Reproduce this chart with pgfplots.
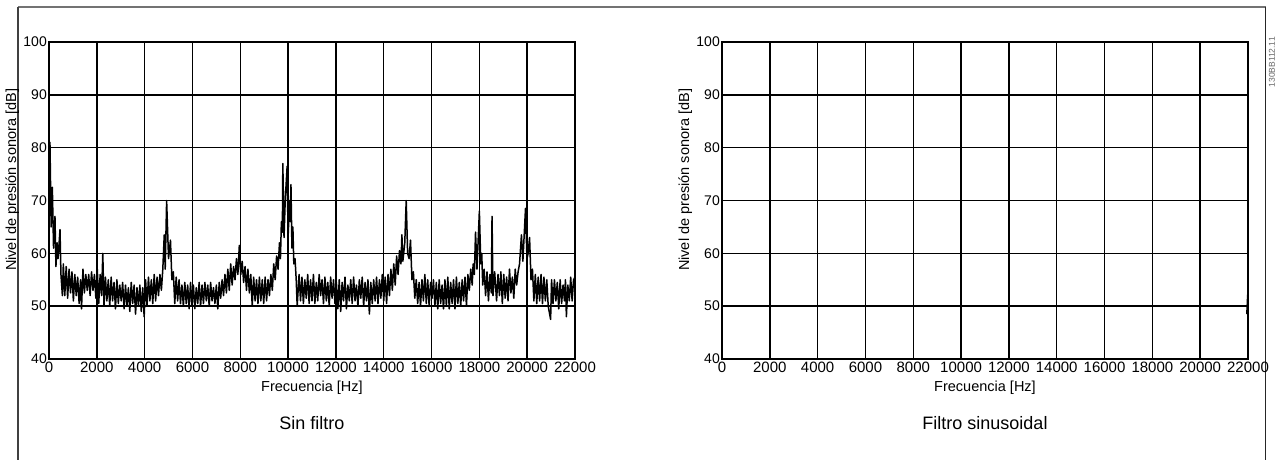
\documentclass[border=0pt]{standalone}
\usepackage{fontspec}
\setmainfont{Liberation Sans}
\usepackage{pgfplots}
\pgfplotsset{compat=1.18}

\pgfplotsset{
  panel/.style={
    scale only axis, width=526pt, height=317pt,
    anchor=south west,
    xmin=0, xmax=22000, ymin=40, ymax=100,
    xtick={0,2000,...,22000}, ytick={40,50,...,100},
    scaled x ticks=false,
    /pgf/number format/assume math mode=true,
    /pgf/number format/1000 sep={},
    major tick length=0pt,
    grid=major, grid style={black, line width=1.5pt},
    axis line style={black, line width=1.5pt},
    yticklabel style={font=\fontsize{14}{16}\selectfont, inner sep=2pt},
    xticklabel style={font=\fontsize{15}{16}\selectfont, inner sep=3pt},
    label style={font=\fontsize{14.5}{17}\selectfont},
    xlabel={Frecuencia [Hz]},
    xlabel style={at={(axis description cs:0.5,-0.092)}, anchor=center},
    ylabel={Nivel de presión sonora [dB]},
    ylabel style={at={(axis description cs:-0.07,0.565)}, anchor=center},
    title style={font=\fontsize{18}{21}\selectfont, at={(axis description cs:0.5,-0.222)}, anchor=center},
  }
}

\begin{document}
\begin{tikzpicture}
\path[use as bounding box] (0pt,0pt) rectangle (1279pt,460pt);
% outer frame
\draw[black!55, line width=1.3pt] (18pt,453pt) -- (1265.5pt,453pt);
\draw[black!75, line width=1.1pt] (18pt,0pt) -- (18pt,453pt);
\draw[black!85, line width=1.1pt] (1265.5pt,0pt) -- (1265.5pt,453pt);
\node[rotate=90, anchor=east, text=black!60, font=\fontsize{8.5}{9}\selectfont, inner sep=0pt] at (1272pt,423pt) {130BB112.11};

\begin{axis}[panel, at={(49pt,101pt)}, title={Sin filtro}]
\addplot[black, line width=1.5pt, line join=round] coordinates {
(0,74)(40,81)(90,65)(140,72.5)(190,61)(250,67)(290,57.5)(340,62)(380,59)(460,64.5)
(500,56)(560,52)(600,58)(660,52)(720,57.5)(780,51.5)(840,57)(900,52.5)(960,56.5)(1020,51)
(1080,56)(1140,52)(1200,55.5)(1260,50.5)(1320,55)(1360,49.5)(1420,57)(1480,52.5)(1540,56)(1600,53)
(1660,56)(1720,52)(1780,56.5)(1840,53)(1900,56)(1960,51.5)(2020,57)(2080,50.5)(2140,56)(2200,52)
(2250,60)(2300,50)(2360,55.5)(2420,51)(2480,55)(2540,50)(2600,55.5)(2660,51)(2720,54.5)(2780,49.5)
(2840,55)(2900,50.5)(2960,54)(3020,51)(3080,54.5)(3140,49.5)(3200,54)(3260,50)(3320,53.5)(3380,49)
(3440,54.5)(3500,50.5)(3560,54)(3620,48.5)(3680,53.5)(3740,50)(3800,54)(3860,49)(3920,53.5)(3980,48)
(4040,55)(4100,50)(4160,55.5)(4220,51)(4280,55)(4340,50.5)(4400,56)(4460,51)(4520,55.5)(4580,52)
(4640,56)(4700,53)(4760,57)(4820,63.5)(4860,57)(4920,70)(5000,59)(5080,62.5)(5140,55)(5200,56.5)
(5260,50.5)(5320,55.5)(5380,51)(5440,55)(5500,50.5)(5560,54)(5620,50)(5680,54.5)(5740,50.5)(5800,54)
(5860,49.5)(5920,54.5)(5980,50)(6040,54)(6100,49.5)(6160,53.5)(6220,50.5)(6280,54.5)(6340,50)(6400,54)
(6460,50.5)(6520,54.5)(6580,51)(6640,54)(6700,50)(6760,54.5)(6820,51)(6880,53.5)(6940,50.5)(7000,54)
(7060,49.5)(7120,54.5)(7180,51.5)(7240,55)(7300,52)(7360,56)(7420,52.5)(7480,57)(7540,53)(7600,58)
(7660,54)(7720,57.5)(7780,55)(7840,59)(7900,56)(7960,61.5)(8020,56)(8080,58.5)(8140,54.5)(8200,57.5)
(8260,53)(8320,57)(8380,52.5)(8440,56)(8500,50)(8560,55.5)(8620,51)(8680,55)(8740,50.5)(8800,55.5)
(8860,51)(8920,55)(8980,50.5)(9040,55.5)(9100,51)(9160,55)(9220,52)(9280,56)(9340,53)(9400,58)
(9460,55)(9520,59.5)(9580,57)(9640,62)(9680,59)(9720,66)(9760,64)(9780,77)(9830,63)(9880,70)
(9960,76.5)(10000,63)(10060,70)(10090,66)(10120,73)(10160,61)(10200,65)(10240,58)(10290,59)(10340,55)
(10380,50)(10460,56)(10520,51)(10580,55.5)(10640,50.5)(10700,55)(10760,51.5)(10820,56)(10880,50.5)(10940,55)
(11000,51)(11060,56)(11120,50.5)(11180,54.5)(11240,51)(11300,56)(11360,52)(11420,55)(11480,50.5)(11540,55.5)
(11600,51)(11660,54.5)(11720,50)(11780,55.5)(11840,51.5)(11900,55)(11960,50.5)(12020,54.5)(12080,49.5)(12140,55)
(12200,49)(12260,54.5)(12320,51)(12380,55.5)(12440,49.5)(12500,54)(12560,51)(12620,55)(12680,50.5)(12740,55.5)
(12800,51)(12860,54)(12920,50)(12980,55)(13040,51.5)(13100,55.5)(13160,50)(13220,54.5)(13280,51)(13340,55)
(13400,48.5)(13460,54.5)(13520,50.5)(13580,55)(13640,51)(13700,55.5)(13760,50.5)(13820,55)(13880,51.5)(13940,56)
(14000,51)(14060,55.5)(14120,50.5)(14180,56)(14240,52)(14300,57)(14360,53)(14420,58)(14480,54)(14540,59.5)
(14600,56)(14660,60.5)(14720,58)(14760,63.5)(14800,58.5)(14880,62)(14940,70)(15000,60)(15060,59)(15120,62.5)
(15180,55)(15240,56.5)(15300,51.5)(15360,55)(15420,50.5)(15480,54.5)(15540,50)(15600,55)(15660,51)(15720,56)
(15780,50.5)(15840,55)(15900,50)(15960,54.5)(16020,51.5)(16080,55)(16140,50)(16200,54.5)(16260,49.5)(16320,55)
(16380,50.5)(16440,54)(16500,49.5)(16560,55)(16620,50)(16680,55.5)(16740,49.5)(16800,54.5)(16860,50.5)(16920,55)
(16980,49.5)(17040,55.5)(17100,50.5)(17160,54.5)(17220,50)(17280,55)(17340,51)(17400,55.5)(17460,50)(17520,56)
(17580,53)(17640,57)(17700,54)(17740,58)(17790,56)(17840,64)(17900,57)(18000,68)(18060,58)(18100,60)
(18140,54)(18200,57)(18260,52)(18320,56.5)(18380,51)(18440,56)(18500,52.5)(18530,67)(18570,52)(18640,56.5)
(18720,51)(18780,56)(18840,52)(18900,56.5)(18960,50.5)(19020,56)(19080,51.5)(19140,55.5)(19200,51)(19260,57)
(19320,52.5)(19380,55.5)(19440,51.5)(19500,57)(19560,54)(19620,56.5)(19680,58)(19760,63.5)(19820,58.5)(19930,68.5)
(19990,59)(20040,60)(20100,63)(20160,55)(20220,57)(20280,51)(20340,56)(20400,50.5)(20460,55.5)(20520,51)
(20580,56)(20640,50.5)(20700,55.5)(20760,51)(20820,55)(20880,50)(20980,47.5)(21020,55)(21080,50.5)(21140,55)
(21200,51)(21260,54.5)(21320,49.5)(21380,55)(21440,50.5)(21500,54)(21560,51)(21600,55)(21640,48)(21700,54)
(21760,51)(21820,55.5)(21880,51)(21940,55)(22000,55.5)
};
\end{axis}

\begin{axis}[panel, at={(722pt,101pt)}, title={Filtro sinusoidal}]
\addplot[black, line width=1.5pt] coordinates {(21950,48.5)(21980,51.5)(22000,53)};
\end{axis}
\end{tikzpicture}
\end{document}
